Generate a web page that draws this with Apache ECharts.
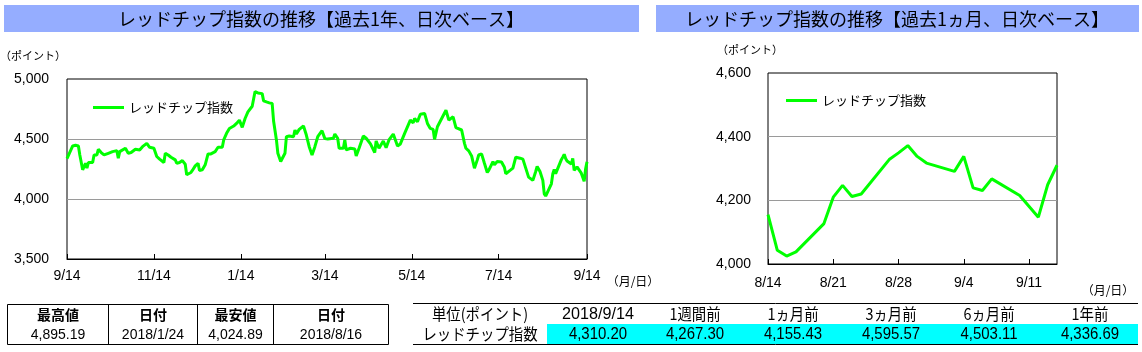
<!DOCTYPE html>
<html>
<head>
<meta charset="utf-8">
<script src="https://cdn.jsdelivr.net/npm/echarts@6/dist/echarts.min.js"></script>
<style>
  body { margin: 0; background: #fff; }
  #chart { width: 1142px; height: 352px; }
</style>
</head>
<body>
<div id="chart"></div>
<script>
// 過去1年（2017/9/14〜2018/8/12）
var yearDates = [
  '2017-09-14', '2017-09-18', '2017-09-20', '2017-09-22', '2017-09-23', '2017-09-25', '2017-09-27', '2017-09-28', '2017-09-29', '2017-10-02',
  '2017-10-03', '2017-10-05', '2017-10-06', '2017-10-08', '2017-10-10', '2017-10-13', '2017-10-16', '2017-10-19', '2017-10-20', '2017-10-21',
  '2017-10-22', '2017-10-25', '2017-10-27', '2017-10-29', '2017-11-01', '2017-11-04', '2017-11-06', '2017-11-09', '2017-11-11', '2017-11-14',
  '2017-11-16', '2017-11-18', '2017-11-21', '2017-11-22', '2017-11-24', '2017-11-26', '2017-11-27', '2017-11-29', '2017-11-30', '2017-12-02',
  '2017-12-04', '2017-12-06', '2017-12-07', '2017-12-08', '2017-12-10', '2017-12-11', '2017-12-13', '2017-12-15', '2017-12-16', '2017-12-18',
  '2017-12-20', '2017-12-22', '2017-12-24', '2017-12-27', '2017-12-29', '2018-01-01', '2018-01-02', '2018-01-04', '2018-01-06', '2018-01-09',
  '2018-01-11', '2018-01-13', '2018-01-15', '2018-01-17', '2018-01-19', '2018-01-22', '2018-01-24', '2018-01-26', '2018-01-29', '2018-01-30',
  '2018-02-01', '2018-02-03', '2018-02-05', '2018-02-06', '2018-02-08', '2018-02-09', '2018-02-11', '2018-02-12', '2018-02-14', '2018-02-15',
  '2018-02-17', '2018-02-20', '2018-02-21', '2018-02-22', '2018-02-24', '2018-02-27', '2018-03-01', '2018-03-03', '2018-03-05', '2018-03-07',
  '2018-03-09', '2018-03-12', '2018-03-14', '2018-03-16', '2018-03-20', '2018-03-21', '2018-03-23', '2018-03-24', '2018-03-27', '2018-03-28',
  '2018-03-29', '2018-04-01', '2018-04-04', '2018-04-05', '2018-04-07', '2018-04-10', '2018-04-12', '2018-04-15', '2018-04-18', '2018-04-19',
  '2018-04-21', '2018-04-24', '2018-04-26', '2018-04-28', '2018-05-01', '2018-05-02', '2018-05-04', '2018-05-06', '2018-05-09', '2018-05-13',
  '2018-05-15', '2018-05-16', '2018-05-18', '2018-05-20', '2018-05-23', '2018-05-25', '2018-05-27', '2018-05-29', '2018-05-30', '2018-06-01',
  '2018-06-04', '2018-06-07', '2018-06-09', '2018-06-12', '2018-06-14', '2018-06-18', '2018-06-20', '2018-06-21', '2018-06-23', '2018-06-25',
  '2018-06-27', '2018-06-29', '2018-06-30', '2018-07-02', '2018-07-04', '2018-07-06', '2018-07-07', '2018-07-10', '2018-07-11', '2018-07-13',
  '2018-07-16', '2018-07-18', '2018-07-19', '2018-07-22', '2018-07-24', '2018-07-26', '2018-07-29', '2018-07-31', '2018-08-02', '2018-08-04',
  '2018-08-07', '2018-08-09', '2018-08-10', '2018-08-12'
]
var yearValues = [
  4336.69, 4442, 4448, 4442, 4367, 4243, 4298, 4257, 4304, 4304,
  4367, 4367, 4414, 4387, 4367, 4381, 4395, 4403, 4340, 4395,
  4387, 4423, 4381, 4387, 4414, 4409, 4436, 4464, 4431, 4423,
  4354, 4332, 4304, 4381, 4367, 4348, 4359, 4326, 4298, 4304,
  4320, 4290, 4202, 4188, 4221, 4238, 4276, 4298, 4238, 4243,
  4285, 4376, 4376, 4395, 4431, 4431, 4492, 4547, 4588, 4608,
  4630, 4657, 4597, 4671, 4726, 4773, 4895.19, 4884, 4878, 4818,
  4809, 4801, 4796, 4650, 4492, 4381, 4312, 4304, 4381, 4519,
  4525, 4519, 4575, 4541, 4580, 4608, 4533, 4436, 4367, 4436,
  4519, 4569, 4503.11, 4500, 4506, 4541, 4506, 4423, 4423, 4492,
  4409, 4423, 4417, 4359, 4423, 4525, 4506, 4459, 4387, 4483,
  4423, 4483, 4428, 4492, 4541, 4533, 4442, 4459, 4547, 4657,
  4635, 4671, 4644, 4707, 4713, 4630, 4588, 4580, 4497, 4602,
  4671, 4740, 4657, 4685, 4595.57, 4575, 4464, 4423, 4401, 4359,
  4257, 4326, 4367, 4376, 4298, 4221, 4238, 4312, 4285, 4312,
  4309, 4265, 4210, 4238, 4257, 4348, 4340, 4332, 4257, 4182,
  4155, 4229, 4271, 4229
]

// 過去1ヵ月（2018/8/14〜2018/9/14）
var monthDates = [
  '2018-08-14', '2018-08-15', '2018-08-16', '2018-08-17', '2018-08-20', '2018-08-21', '2018-08-22', '2018-08-23',
  '2018-08-24', '2018-08-27', '2018-08-28', '2018-08-29', '2018-08-30', '2018-08-31', '2018-09-03', '2018-09-04',
  '2018-09-05', '2018-09-06', '2018-09-07', '2018-09-10', '2018-09-12', '2018-09-13', '2018-09-14'
]
var monthValues = [
  4155.43, 4043, 4024.89, 4038, 4127, 4210, 4247, 4212,
  4220, 4328, 4349, 4372, 4338, 4317, 4291, 4338,
  4239, 4231, 4267.30, 4215, 4147, 4249, 4310.20
]

// 目盛り
var yearTicks = ['2017-09-14', '2017-11-14', '2018-01-14', '2018-03-14', '2018-05-14', '2018-07-14', '2018-09-14']
var monthTicks = ['2018-08-14', '2018-08-21', '2018-08-28', '2018-09-04', '2018-09-11']

// 表
var leftHead = ['最高値', '日付', '最安値', '日付']
var leftRow = ['4,895.19', '2018/1/24', '4,024.89', '2018/8/16']
var rightHead = ['単位(ポイント)', '2018/9/14', '1週間前', '1ヵ月前', '3ヵ月前', '6ヵ月前', '1年前']
var rightRow = ['レッドチップ指数', '4,310.20', '4,267.30', '4,155.43', '4,595.57', '4,503.11', '4,336.69']

var seriesName = 'レッドチップ指数'
var green = '#00ff00'
var jp = '"Noto Sans CJK JP", sans-serif'
var num = '"Liberation Sans", Arial, sans-serif'

function toTime(s) {
  var p = s.split('-')
  return Date.UTC(+p[0], +p[1] - 1, +p[2])
}
function pairs(dates, values) {
  return dates.map(function (d, i) { return [toTime(d), values[i]] })
}
function md(v) {
  var d = new Date(v)
  return (d.getUTCMonth() + 1) + '/' + d.getUTCDate()
}
function comma(v) {
  return String(v).replace(/\B(?=(\d{3})+(?!\d))/g, ',')
}

var fullYear = pairs(yearDates.concat(monthDates), yearValues.concat(monthValues))
var lastMonth = pairs(monthDates, monthValues)

// 日付は数値軸（UTCミリ秒）で持つ
function xAxisOf(idx, ticks, endDate, margin) {
  var vals = ticks.map(toTime)
  return {
    type: 'value',
    gridIndex: idx,
    min: vals[0],
    max: toTime(endDate),
    axisLine: { show: true, lineStyle: { color: '#000', width: 1 } },
    axisTick: { show: true, inside: true, length: 5, customValues: vals, lineStyle: { color: '#000' } },
    axisLabel: {
      customValues: vals,
      formatter: md,
      margin: margin,
      color: '#000',
      fontSize: 14,
      fontFamily: num
    },
    splitLine: { show: false }
  }
}
function yAxisOf(idx, min, max, step, margin) {
  return {
    type: 'value',
    gridIndex: idx,
    min: min,
    max: max,
    interval: step,
    axisLine: { show: false },
    axisTick: { show: false },
    axisLabel: { formatter: comma, margin: margin, color: '#000', fontSize: 14, fontFamily: num },
    splitLine: { show: true, showMinLine: false, showMaxLine: false, lineStyle: { color: '#9a9a9a', width: 1 } }
  }
}

// 表・見出しのグラフィック
var graphics = []
function text(x, y, s, size, family, bold, sx) {
  graphics.push({
    type: 'text', x: x, y: y, z: 10, scaleX: sx || 1,
    style: { text: s, fill: '#000', font: (bold ? 'bold ' : '') + size + 'px ' + family, align: 'center', verticalAlign: 'middle' }
  })
}
function hline(x1, x2, y) {
  graphics.push({ type: 'line', z: 10, shape: { x1: x1, y1: y, x2: x2, y2: y }, style: { stroke: '#000', lineWidth: 1 } })
}
function vline(x, y1, y2) {
  graphics.push({ type: 'line', z: 10, shape: { x1: x, y1: y1, x2: x, y2: y2 }, style: { stroke: '#000', lineWidth: 1 } })
}

// タイトル
graphics.push({ type: 'rect', shape: { x: 4, y: 5, width: 635, height: 27 }, style: { fill: '#95adff' } })
graphics.push({ type: 'rect', shape: { x: 656, y: 5, width: 483, height: 27 }, style: { fill: '#95adff' } })
text(321, 19, 'レッドチップ指数の推移【過去1年、日次ベース】', 18, jp)
text(897, 19, 'レッドチップ指数の推移【過去1ヵ月、日次ベース】', 18, jp)

// 単位
text(33, 56, '（ポイント）', 11, jp)
text(750, 50, '（ポイント）', 11, jp)
text(633, 281, '（月/日）', 12, jp)
text(1108, 290, '（月/日）', 12, jp)

// 左の表
var lCols = [7.5, 108.5, 197.5, 273.5, 388.5]
graphics.push({ type: 'rect', z: 10, shape: { x: 7.5, y: 304.5, width: 381, height: 40 }, style: { fill: 'none', stroke: '#000', lineWidth: 1 } })
for (var i = 1; i < lCols.length - 1; i++) vline(lCols[i], 304.5, 344.5)
for (var i = 0; i < leftHead.length; i++) {
  var cx = (lCols[i] + lCols[i + 1]) / 2
  text(cx, 315, leftHead[i], 14, jp, true)
  text(cx, 335, leftRow[i], 14, num)
}

// 右の表（縦長の字形に寄せて横を詰める）
var rCenters = [480, 598, 695, 793, 891, 989, 1090]
graphics.push({ type: 'rect', z: 5, shape: { x: 547, y: 324, width: 591, height: 20 }, style: { fill: '#00ffff' } })
hline(413, 1138, 303.5)
hline(413, 1138, 344.5)
for (var i = 0; i < rightHead.length; i++) {
  if (i === 1) text(rCenters[i], 314, rightHead[i], 17, num, false, 0.95)
  else text(rCenters[i], 314, rightHead[i], 16, jp, false, 0.9)
  if (i === 0) text(rCenters[i], 334, rightRow[i], 16, jp, false, 0.9)
  else text(rCenters[i], 334, rightRow[i], 17, num, false, 0.88)
}

var option = {
  animation: false,
  backgroundColor: '#fff',
  grid: [
    { left: 67, top: 79, width: 520, height: 180, show: true, borderColor: '#000', borderWidth: 1, backgroundColor: 'transparent' },
    { left: 768, top: 73, width: 289, height: 191, show: true, borderColor: '#000', borderWidth: 1, backgroundColor: 'transparent' }
  ],
  xAxis: [xAxisOf(0, yearTicks, '2018-09-14', 10), xAxisOf(1, monthTicks, '2018-09-14', 12)],
  yAxis: [yAxisOf(0, 3500, 5000, 500, 18), yAxisOf(1, 4000, 4600, 200, 17)],
  legend: [
    {
      left: 88, top: 96, icon: 'rect', itemWidth: 31, itemHeight: 3,
      data: [seriesName],
      textStyle: { color: '#000', fontSize: 13, fontFamily: jp }
    },
    {
      left: 781, top: 89, icon: 'rect', itemWidth: 31, itemHeight: 3,
      data: [seriesName],
      textStyle: { color: '#000', fontSize: 13, fontFamily: jp }
    }
  ],
  series: [
    {
      name: seriesName, type: 'line', xAxisIndex: 0, yAxisIndex: 0,
      data: fullYear, showSymbol: false, symbol: 'none',
      lineStyle: { color: green, width: 3 }, itemStyle: { color: green }
    },
    {
      name: seriesName, type: 'line', xAxisIndex: 1, yAxisIndex: 1,
      data: lastMonth, showSymbol: false, symbol: 'none',
      lineStyle: { color: green, width: 3 }, itemStyle: { color: green }
    }
  ],
  graphic: graphics
}

var mCharts = echarts.init(document.getElementById('chart'))
mCharts.setOption(option)
</script>
</body>
</html>
